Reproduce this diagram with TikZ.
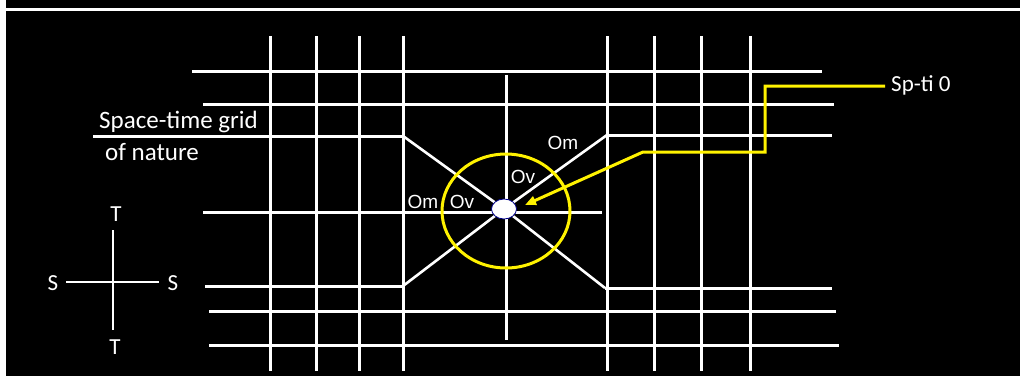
\documentclass[tikz,border=0pt]{standalone}
\usepackage{fontspec}
\setmainfont{Carlito}
\newfontfamily\arialfont{Liberation Sans}
\usetikzlibrary{shapes.geometric,arrows.meta}
\tikzset{
  gridline/.style={white, line width=3pt},
  yline/.style={yellow, line width=3pt},
  lbl/.style={white, font=\fontsize{23}{27}\selectfont, inner sep=0pt},
  biglbl/.style={white, font=\fontsize{25}{29}\selectfont, inner sep=0pt},
  olbl/.style={white, font=\arialfont\fontsize{19}{22}\selectfont, inner sep=1pt},
}

\begin{document}
\begin{tikzpicture}[x=1pt, y=-1pt]
  \useasboundingbox (0,0) rectangle (1020,376);
  \fill[white] (0,0) rectangle (1020,376);
  \fill[black] (6,0) rectangle (1020,8);
  \fill[black] (6,11) rectangle (1020,376);
  % grid of nature
  \foreach \x in {270,316,359,403,607,654,701,750}
    \draw[gridline] (\x,36) -- (\x,371);
  \draw[gridline] (506,75) -- (506,340);
  \draw[gridline] (192,71) -- (822,71);
  \draw[gridline] (203,104) -- (834,104);
  \draw[gridline] (93,136) -- (403,136);
  \draw[gridline] (607,135) -- (832,135);
  \draw[gridline] (203,212) -- (602,212);
  \draw[gridline] (205,286) -- (403,286);
  \draw[gridline] (605,288) -- (832,288);
  \draw[gridline] (209,311) -- (836,311);
  \draw[gridline] (209,345) -- (839,345);
  % centre point
  \coordinate (ul) at (403,136);
  \coordinate (ll) at (403,286);
  \coordinate (ur) at (607,135);
  \coordinate (lr) at (605,288);
  \node[ellipse, minimum width=24pt, minimum height=19pt, inner sep=0pt] (ctr) at (504,209) {};
  \draw[gridline, line width=2.6pt] (ul) -- (ctr.center) -- (lr);
  \draw[gridline, line width=2.6pt] (ll) -- (ctr.center) -- (ur);
  \draw[yline] (506,211) ellipse [x radius=64, y radius=57];
  \node[ellipse, draw=blue!55!black, fill=white, line width=0.8pt,
        minimum width=25pt, minimum height=20pt, inner sep=0pt] at (ctr) {};
  \node[olbl] (om1) at (563,143) {Om};
  \node[olbl] (ov1) at (523,177) {Ov};
  \node[olbl] (om2) at (423,202) {Om};
  \node[olbl] (ov2) at (462,202) {Ov};
  % pointer
  \node[lbl, anchor=base west] (sp) at (891,91) {Sp-ti 0};
  \coordinate (k1) at (765,86);
  \coordinate (k2) at (765,152);
  \coordinate (k3) at (643,152);
  \coordinate (tip) at (525,205);
  \draw[yline, -{Triangle[length=11pt,width=9pt]}] ([xshift=-6pt]sp.west |- k1) -- (k1) -- (k2) -- (k3) -- (tip);
  % labels
  \node[biglbl, anchor=base west] (grid) at (99,128) {Space-time grid};
  \node[biglbl, anchor=base west] (nat) at (105,160) {of nature};
  % compass
  \coordinate (ct) at (113,230);
  \coordinate (cb) at (113,330);
  \coordinate (cl) at (66,282);
  \coordinate (cr) at (159,282);
  \draw[gridline, line width=2.6pt] (ct) -- (cb);
  \draw[gridline, line width=2.6pt] (cl) -- (cr);
  \node[lbl] (sl) at (53,283) {S};
  \node[lbl] (sr) at (173,283) {S};
  \node[lbl] (tt) at (116,214) {T};
  \node[lbl] (tb) at (115,347) {T};
\end{tikzpicture}
\end{document}
